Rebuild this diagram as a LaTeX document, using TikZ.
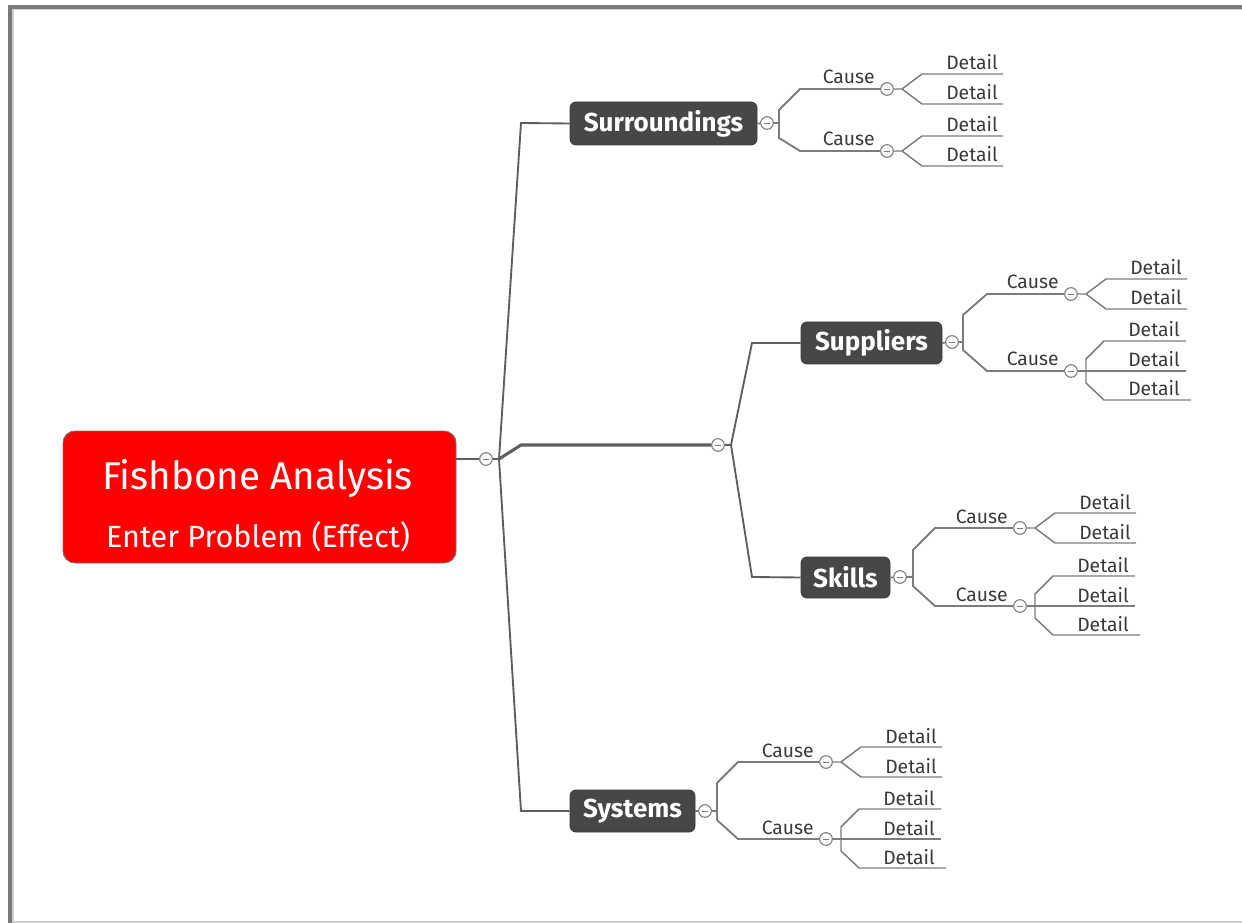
\documentclass[tikz,border=0pt]{standalone}
\usepackage{fontspec}
\setmainfont{Fira Sans}
\usetikzlibrary{calc}
\definecolor{topicgray}{HTML}{474747}
\definecolor{linegray}{HTML}{5E5E5E}
\definecolor{thingray}{HTML}{7C7C7C}
\definecolor{txtgray}{HTML}{3A3A3A}
\definecolor{framegray}{HTML}{7A7A7A}
\definecolor{framelight}{HTML}{CFCFCF}
\definecolor{fbred}{HTML}{FF0000}
\tikzset{
  mainbox/.style={rectangle, rounded corners=9pt, fill=fbred, draw=black!55, line width=0.7pt, inner sep=0pt},
  maintext/.style={text=white, inner sep=0pt},
  topic/.style={rectangle, rounded corners=4.5pt, fill=topicgray, draw=topicgray!80!black, line width=0.6pt, text=white, font=\bfseries\fontsize{19.5}{21}\selectfont, inner sep=0pt},
  ccirc/.style={circle, draw=thingray, fill=white, line width=0.8pt, minimum size=9.5pt, inner sep=0pt,
    path picture={\draw[thingray, line width=0.7pt] ($(path picture bounding box.center)+(-2.6pt,0)$) -- ($(path picture bounding box.center)+(2.6pt,0)$);}},
  spine/.style={draw=linegray, line width=1.4pt},
  midline/.style={draw=linegray, line width=2.3pt},
  branch/.style={draw=linegray!85, line width=1.3pt},
  causeline/.style={draw=thingray, line width=1.4pt},
  detline/.style={draw=thingray, line width=1.1pt},
  causelbl/.style={text=txtgray, font=\fontsize{14.5}{16}\selectfont, inner sep=0pt, anchor=base east},
  detlbl/.style={text=txtgray, font=\fontsize{14.5}{16}\selectfont, inner sep=0pt, anchor=base east},
}
% two-detail cause group: name, circle x, circle y
\newcommand{\fbtwo}[3]{%
  \node[ccirc] (#1) at (#2,#3) {};
  \coordinate (#1j) at ({#2+15},#3);
  \coordinate (#1ua) at ({#2+35},{#3-15}); \coordinate (#1ub) at ({#2+116},{#3-15});
  \coordinate (#1da) at ({#2+35},{#3+15}); \coordinate (#1db) at ({#2+116},{#3+15});
  \draw[detline] (#1) -- (#1j) -- (#1ua) -- (#1ub);
  \draw[detline] (#1j) -- (#1da) -- (#1db);
  \node[detlbl] (#1tu) at ($(#1ub)+(-5,-4)$) {Detail};
  \node[detlbl] (#1td) at ($(#1db)+(-5,-4)$) {Detail};
}
% three-detail cause group
\newcommand{\fbthree}[3]{%
  \node[ccirc] (#1) at (#2,#3) {};
  \coordinate (#1j) at ({#2+15},#3);
  \coordinate (#1uv) at ({#2+15},{#3-12}); \coordinate (#1ua) at ({#2+33},{#3-30}); \coordinate (#1ub) at ({#2+115},{#3-30});
  \coordinate (#1mb) at ({#2+115},#3);
  \coordinate (#1dv) at ({#2+15},{#3+12}); \coordinate (#1da) at ({#2+33},{#3+29}); \coordinate (#1db) at ({#2+120},{#3+29});
  \draw[detline] (#1) -- (#1mb);
  \draw[detline] (#1j) -- (#1uv) -- (#1ua) -- (#1ub);
  \draw[detline] (#1j) -- (#1dv) -- (#1da) -- (#1db);
  \node[detlbl] (#1tu) at ($(#1ub)+(-6,-4)$) {Detail};
  \node[detlbl] (#1tm) at ($(#1mb)+(-6,-4)$) {Detail};
  \node[detlbl] (#1td) at ($(#1db)+(-11,-4)$) {Detail};
}
\newcommand{\fbcauselbl}[1]{\node[causelbl] (#1l) at ($(#1)+(-12,-5)$) {Cause};}
\begin{document}
\begin{tikzpicture}[x=0.75pt,y=-0.75pt]
\useasboundingbox (0,0) rectangle (1242,923);
% frame
\fill[framegray] (8,5) rectangle (12,923);
\fill[framegray] (8,5) rectangle (1242,9);
\fill[framelight] (12,9) rectangle (13.5,923);
\fill[framelight] (12,9) rectangle (1242,10.5);
\fill[framelight] (12,921) rectangle (1242,923);

% central problem
\node[mainbox, minimum width=294.75pt, minimum height=99pt] (main) at (259.5,497) {};
\node[maintext, font=\fontsize{29}{33}\selectfont] (maint) at (257.5,479) {Fishbone Analysis};
\node[maintext, font=\fontsize{23}{26}\selectfont] (mains) at (258,537) {Enter Problem (Effect)};

% spine
\node[ccirc] (m0) at (486,459) {};
\coordinate (sp) at (499,459);
\coordinate (sptop) at (521,123);
\coordinate (spbot) at (521,811);
\coordinate (mk) at (521,445);
\coordinate (mj) at (731,445);
\coordinate (mup) at (752,343);
\coordinate (mdn) at (752,577);

% main categories
\node[topic, minimum width=140.25pt, minimum height=32.25pt] (surr) at (663.5,123.5) {Surroundings};
\node[topic, minimum width=105.75pt, minimum height=31.5pt] (supp) at (871.5,343) {Suppliers};
\node[topic, minimum width=66.75pt, minimum height=30.75pt] (skil) at (845.5,577.5) {Skills};
\node[topic, minimum width=93.75pt, minimum height=31.5pt] (syst) at (632.5,811) {Systems};
\node[ccirc] (m1) at (718,445) {};

\draw[spine, line width=2pt] (main.east |- m0) -- (m0);
\draw[spine] (m0) -- (sp) -- (sptop) -- (surr.west);
\draw[spine] (sp) -- (spbot) -- (syst.west);
\draw[midline] (sp) -- (mk) -- (m1);
\draw[spine] (m1) -- (mj) -- (mup) -- (supp.west);
\draw[spine] (mj) -- (mdn) -- (skil.west);

% Surroundings
\node[ccirc] (surrc) at (767,123) {};
\draw[branch] (surr.east) -- (surrc);
\fbtwo{sa}{887}{89}
\fbtwo{sb}{887}{151}
\fbcauselbl{sa}
\fbcauselbl{sb}
\coordinate (surrj) at (779,123);
\draw[causeline] (surrc) -- (surrj) -- (779,110) -- (800,89) -- (sa);
\draw[causeline] (surrj) -- (779,138) -- (800,151) -- (sb);

% Suppliers
\node[ccirc] (suppc) at (952,342) {};
\draw[branch] (supp.east) -- (suppc);
\fbtwo{ua}{1071}{294}
\fbthree{ub}{1071}{371}
\fbcauselbl{ua}
\fbcauselbl{ub}
\coordinate (suppj) at (963,342);
\draw[causeline] (suppc) -- (suppj) -- (963,315) -- (987,294) -- (ua);
\draw[causeline] (suppj) -- (963,350) -- (987,371) -- (ub);

% Skills
\node[ccirc] (skilc) at (900,577) {};
\draw[branch] (skil.east) -- (skilc);
\fbtwo{ka}{1020}{528}
\fbthree{kb}{1020}{606}
\fbcauselbl{ka}
\fbcauselbl{kb}
\coordinate (skilj) at (913,577);
\draw[causeline] (skilc) -- (skilj) -- (913,550) -- (935,528) -- (ka);
\draw[causeline] (skilj) -- (913,586) -- (935,606) -- (kb);

% Systems
\node[ccirc] (systc) at (705,811) {};
\draw[branch] (syst.east) -- (systc);
\fbtwo{ya}{826}{762}
\fbthree{yb}{826}{839}
\fbcauselbl{ya}
\fbcauselbl{yb}
\coordinate (systj) at (717,811);
\draw[causeline] (systc) -- (systj) -- (717,783) -- (738,762) -- (ya);
\draw[causeline] (systj) -- (717,820) -- (738,839) -- (yb);
\end{tikzpicture}
\end{document}
